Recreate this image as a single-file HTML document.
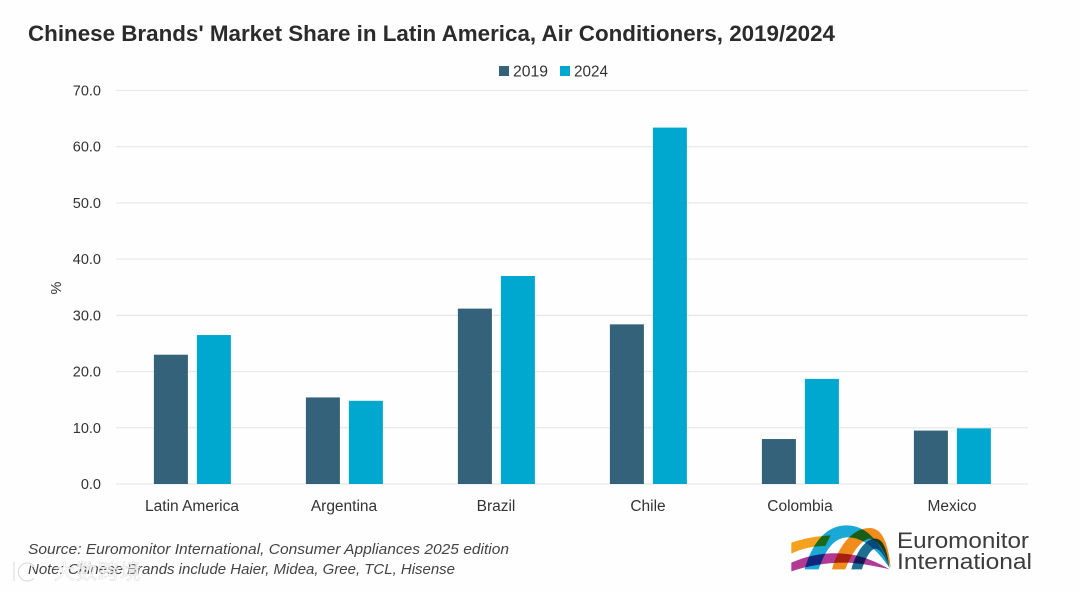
<!DOCTYPE html>
<html lang="en">
<head>
<meta charset="utf-8">
<title>Chinese Brands' Market Share in Latin America, Air Conditioners, 2019/2024</title>
<style>
html,body{margin:0;padding:0;background:#fff}
#stage{display:block;width:1080px;height:591px;font-family:"Liberation Sans",sans-serif}
.mk{mix-blend-mode:multiply}
</style>
</head>
<body>
<svg id="stage" xmlns="http://www.w3.org/2000/svg" width="1080" height="591" viewBox="0 0 1080 591">
  <rect width="1080" height="591" fill="#fefefe"/>
  <text x="28" y="41" font-size="22.5" font-weight="700" fill="#2b2b2b" textLength="807" lengthAdjust="spacingAndGlyphs">Chinese Brands' Market Share in Latin America, Air Conditioners, 2019/2024</text>
  <g>
    <g>
      <rect x="499" y="66" width="10" height="10" fill="#35627b"/>
      <text x="513" y="76.500" font-size="15.500" fill="#333" textLength="35" lengthAdjust="spacingAndGlyphs">2019</text>
    </g>
    <g>
      <rect x="560" y="66" width="10" height="10" fill="#00a7cf"/>
      <text x="574" y="76.500" font-size="15.500" fill="#333" textLength="34" lengthAdjust="spacingAndGlyphs">2024</text>
    </g>
  </g>
  <g id="grid"></g>
  <g id="yticks"></g>
  <g id="bars"></g>
  <g id="xticks"></g>
  <text transform="translate(61,288) rotate(-90)" text-anchor="middle" font-size="14.500" fill="#333">%</text>
  <text x="28" y="554" font-size="14.500" font-style="italic" fill="#444" textLength="481" lengthAdjust="spacingAndGlyphs">Source: Euromonitor International, Consumer Appliances 2025 edition</text>
  <text x="28" y="574" font-size="14.500" font-style="italic" fill="#444" textLength="427" lengthAdjust="spacingAndGlyphs">Note: Chinese Brands include Haier, Midea, Gree, TCL, Hisense</text>
  <g>
    <path d="M14 562 L14 581 M34 566 A9 9 0 1 0 34 578" fill="none" stroke="#fff" stroke-width="3.500" opacity="0.9"/>
    <path d="M14 562 L14 581 M34 566 A9 9 0 1 0 34 578" fill="none" stroke="#d8d8d8" stroke-width="1"/>
    <text x="54" y="579" font-size="21" fill="#fff" fill-opacity="0.78" stroke="#d5d5d5" stroke-width="0.4" font-family="'Liberation Sans','Noto Sans CJK SC',sans-serif" textLength="87">大数跨境</text>
  </g>
  <g>
    <g transform="translate(788,522) scale(0.3333)" style="isolation:isolate">
      <path class="mk" d="M10 62 C45 50 85 42 128 40 L112 72 C75 72 40 80 10 95 Z" fill="#f4a11e"/>
      <path class="mk" d="M50 142 C70 70 110 10 175 10 C230 10 275 50 305 138 C265 80 225 46 180 46 C135 46 110 90 92 142 Z" fill="#1aa9d6"/>
      <path class="mk" d="M132 142 C148 80 190 18 245 18 C285 18 302 70 308 138 C290 85 270 52 245 50 C220 52 190 95 172 142 Z" fill="#f08c1c"/>
      <path class="mk" d="M190 142 C203 95 230 50 262 50 C288 50 298 90 305 138 C290 105 280 82 262 80 C248 82 232 108 222 142 Z" fill="#1d6f92"/>
      <path class="mk" d="M10 122 C70 96 130 88 190 98 C230 104 270 122 305 142 C260 132 210 122 170 122 C110 122 60 132 10 148 Z" fill="#b03a94"/>
    </g>
    <text x="897" y="548" font-size="22" fill="#3c3c3c" textLength="132" lengthAdjust="spacingAndGlyphs">Euromonitor</text>
    <text x="897" y="569" font-size="22" fill="#3c3c3c" textLength="135" lengthAdjust="spacingAndGlyphs">International</text>
  </g>
</svg>
<script>
const categories = ["Latin America", "Argentina", "Brazil", "Chile", "Colombia", "Mexico"];
const series2019 = [23.0, 15.4, 31.2, 28.4, 8.0, 9.5];
const series2024 = [26.5, 14.8, 37.0, 63.4, 18.7, 9.9];
const yTickLabels = ["0.0", "10.0", "20.0", "30.0", "40.0", "50.0", "60.0", "70.0"];

const NS = "http://www.w3.org/2000/svg";
const plotLeft = 116, plotRight = 1028, plotTop = 90.5, plotBottom = 484, yMax = 70;
const barWidth = 34, barGap = 9, barOffset = 0.4;
function yScale(v) { return plotBottom - (v / yMax) * (plotBottom - plotTop); }
function xBand(i) { return plotLeft + (i + 0.5) * (plotRight - plotLeft) / categories.length; }
function make(tag, attrs, parent) {
  const el = document.createElementNS(NS, tag);
  for (const k in attrs) el.setAttribute(k, attrs[k]);
  parent.appendChild(el);
  return el;
}
const grid = document.getElementById("grid");
const yticks = document.getElementById("yticks");
const bars = document.getElementById("bars");
const xticks = document.getElementById("xticks");

yTickLabels.forEach(function (label) {
  const v = parseFloat(label);
  const line = make("line", { x1: plotLeft, x2: plotRight, y1: yScale(v), y2: yScale(v), stroke: "#e8e8e8", "stroke-width": 1.2 }, grid);
  
  
  const t = make("text", { x: 101, y: yScale(v) + 5, "text-anchor": "end", "font-size": 14.5, fill: "#333" }, yticks);
  
  
  t.textContent = label;
});

categories.forEach(function (name, i) {
  const c = xBand(i) + barOffset;
  const b1 = make("rect", { x: c - barGap / 2 - barWidth, y: yScale(series2019[i]), width: barWidth, height: plotBottom - yScale(series2019[i]), fill: "#35627b" }, bars);
  
  
  const b2 = make("rect", { x: c + barGap / 2, y: yScale(series2024[i]), width: barWidth, height: plotBottom - yScale(series2024[i]), fill: "#00a7cf" }, bars);
  
  
  const t = make("text", { x: xBand(i), y: 511, "text-anchor": "middle", "font-size": 15.5, fill: "#333" }, xticks);
  
  
  t.textContent = name;
});
</script>
</body>
</html>
